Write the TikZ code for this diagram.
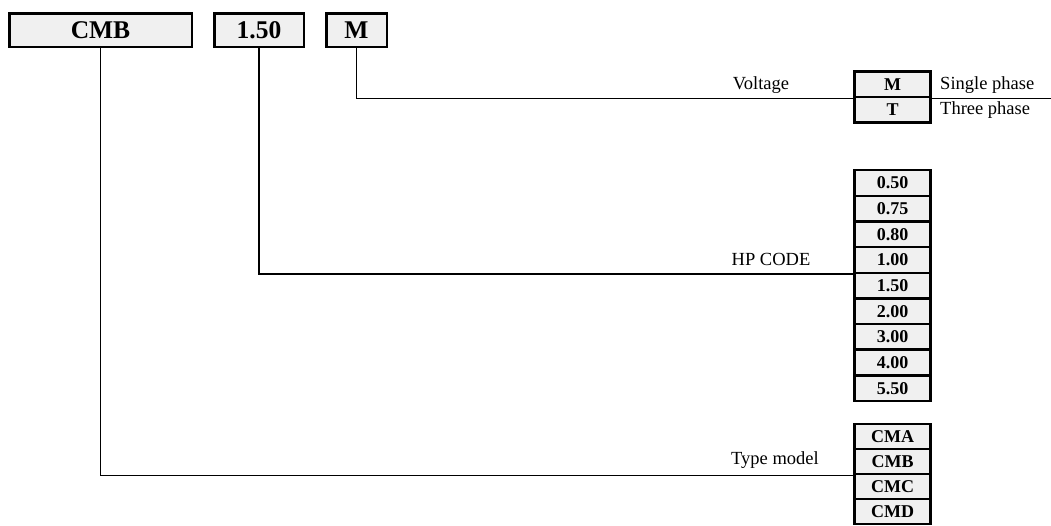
\documentclass[tikz,border=0pt]{standalone}
\usepackage{fontspec}
\setmainfont{Liberation Serif}
\definecolor{boxgray}{HTML}{F0F0F0}
\begin{document}
\begin{tikzpicture}[x=1pt,y=-1pt,
  topbox/.style={draw,line width=2.5pt,fill=boxgray,minimum height=33.5pt,inner sep=0pt,font=\fontsize{25.5}{28}\selectfont\bfseries},
  item/.style={draw,line width=2.5pt,fill=boxgray,minimum width=76pt,minimum height=25.6pt,inner sep=0pt,font=\fontsize{18}{20}\selectfont\bfseries},
  tmitem/.style={item,minimum height=25pt},
  lbl/.style={inner sep=0pt,font=\fontsize{18.5}{21}\selectfont},
  conn/.style={line width=1.3pt}]
\useasboundingbox (0,0) rectangle (1051,525);
% top boxes
\node[topbox,minimum width=182.5pt] (t1) at (100.5,30) {CMB};
\node[topbox,minimum width=89.5pt] (t2) at (259,30) {1.50};
\node[topbox,minimum width=60.5pt] (t3) at (356.5,30) {M};
% voltage
\node[item] (v1) at (892.5,84.2) {M};
\node[item] (v2) at (892.5,109.8) {T};
\node[lbl] (vl) at (761,85) {Voltage};
\node[lbl,anchor=west] (vs) at (940,85) {Single phase};
\node[lbl,anchor=west] (vt) at (940,110) {Three phase};
% HP code
\node[item] (h1) at (892.5,183) {0.50};
\node[item] (h2) at (892.5,208.65) {0.75};
\node[item] (h3) at (892.5,234.3) {0.80};
\node[item] (h4) at (892.5,259.95) {1.00};
\node[item] (h5) at (892.5,285.6) {1.50};
\node[item] (h6) at (892.5,311.25) {2.00};
\node[item] (h7) at (892.5,336.9) {3.00};
\node[item] (h8) at (892.5,362.55) {4.00};
\node[item] (h9) at (892.5,388.2) {5.50};
\node[lbl] (hl) at (771,259) {HP CODE};
% type model
\node[tmitem] (c1) at (892.5,436.5) {CMA};
\node[tmitem] (c2) at (892.5,461.5) {CMB};
\node[tmitem] (c3) at (892.5,486.5) {CMC};
\node[tmitem] (c4) at (892.5,511.5) {CMD};
\node[lbl] (cl) at (775,460) {Type model};
% connectors
\coordinate (vend) at (1051,0);
\draw[conn] (t3.south) |- (v1.south west);
\draw[conn] (v1.south east) -- (v1.south east -| vend);
\draw[conn] (t2.south) |- (h4.south west);
\draw[conn] (t1.south) |- (c2.south west);
\end{tikzpicture}
\end{document}
